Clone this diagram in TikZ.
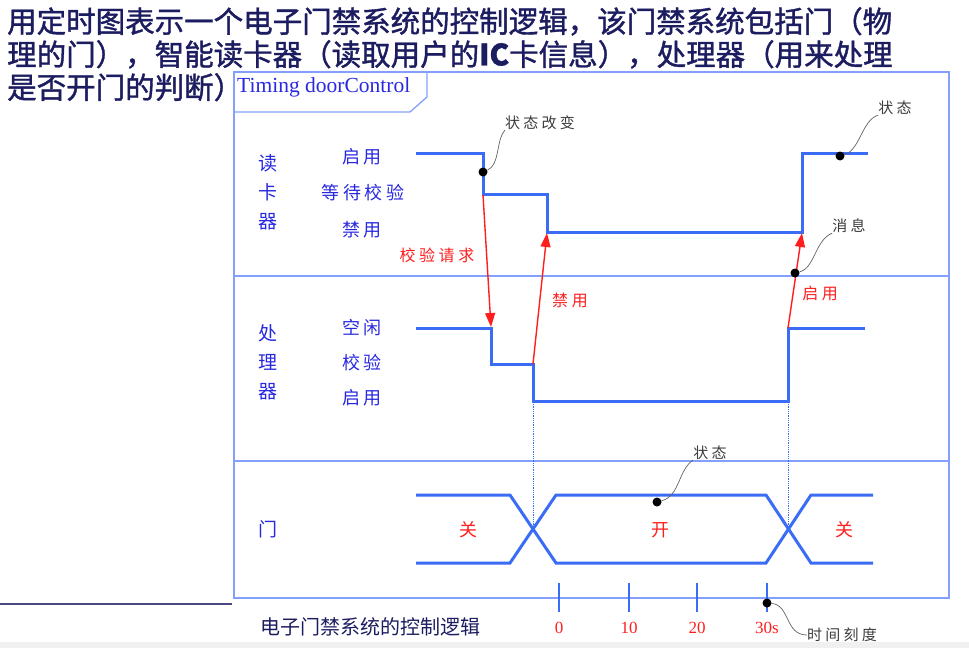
\documentclass[tikz,border=0pt]{standalone}
\usepackage{fontspec}
\setmainfont{Liberation Serif}
\newfontfamily\cjk{Noto Sans CJK SC}
\newfontfamily\cjkhead[FakeBold=1.3]{Noto Sans CJK SC}
\newfontfamily\cjklbl[LetterSpace=22]{Noto Sans CJK SC}
\usepackage{xcolor}
\definecolor{navy}{RGB}{28,28,96}
\definecolor{wave}{RGB}{58,108,245}
\definecolor{frameblue}{RGB}{132,160,255}
\definecolor{lblblue}{RGB}{40,40,225}
\definecolor{sigred}{RGB}{255,30,30}
\definecolor{coal}{RGB}{60,60,60}
\usepackage{tikz}
\usetikzlibrary{arrows.meta,positioning}

\begin{document}
\begin{tikzpicture}[
  x=1pt,y=-1pt,
  frm/.style={draw=frameblue,line width=1.3pt},
  sig/.style={draw=wave,line width=3pt,line join=miter},
  msg/.style={-{Triangle[length=14pt,width=10pt]},draw=sigred,fill=sigred,line width=1.4pt},
  lane/.style={font=\cjk\fontsize{19}{29}\selectfont,text=lblblue,align=center,inner sep=0pt},
  lvl/.style={font=\cjklbl\fontsize{18}{20}\selectfont,text=lblblue,inner sep=0pt},
  red/.style={font=\cjklbl\fontsize{16}{18}\selectfont,text=sigred,inner sep=0pt},
  note/.style={font=\cjklbl\fontsize{15}{17}\selectfont,text=coal,inner sep=0pt},
  notecurve/.style={draw=coal!80,line width=0.7pt},
  dot/.style={circle,fill=black,inner sep=0pt,minimum size=9pt},
  tick/.style={draw=wave,line width=2.6pt},
  tlbl/.style={font=\fontsize{17}{19}\selectfont,text=sigred,inner sep=0pt},
]
\useasboundingbox (0,0) rectangle (969,648);
\fill[black!6] (0,642) rectangle (969,648);

% heading
\node[anchor=north west,inner sep=0pt,align=left,text=navy,
      font=\cjkhead\fontsize{29.5}{33}\selectfont] (head) at (7,7)
  {用定时图表示一个电子门禁系统的控制逻辑，该门禁系统包括门（物\\
   理的门），智能读卡器（读取用户的\textbf{IC}卡信息），处理器（用来处理\\
   是否开门的判断）};
\draw[navy!80,line width=1.2pt] (0,604) -- (232,604);

% frame and lanes
\draw[frm] (234,72) rectangle (949,598);
\draw[frm] (234,112) -- (410,112) -- (427,97) -- (427,72);
\draw[frm] (234,276) -- (949,276);
\draw[frm] (234,461) -- (949,461);
\node[anchor=west,inner sep=0pt,text=lblblue,font=\fontsize{21.5}{23}\selectfont]
  (name) at (237,87) {Timing doorControl};

\node[lane] (reader) at (268,192) {读\\卡\\器};
\node[lane] (cpu) at (268,362) {处\\理\\器};
\node[lane] (door) at (268,529) {门};

\node[lvl] (rOn) at (362,157) {启用};
\node[lvl] (rWait) at (363,193) {等待校验};
\node[lvl] (rOff) at (362,230) {禁用};
\node[lvl] (pIdle) at (362,328) {空闲};
\node[lvl] (pCheck) at (362,363) {校验};
\node[lvl] (pOn) at (362,398) {启用};

% waveforms
\draw[sig] (416,153) -- (483,153) -- (483,194) -- (547,194) -- (547,232)
  -- (802,232) -- (802,153) -- (868,153);
\draw[sig] (416,328) -- (491,328) -- (491,364) -- (533,364) -- (533,401)
  -- (788,401) -- (788,328) -- (865,328);
\draw[sig] (416,495) -- (510,495) -- (556,563) -- (766,563) -- (811,495) -- (873,495);
\draw[sig] (416,563) -- (510,563) -- (556,495) -- (766,495) -- (811,563) -- (873,563);
\draw[wave,densely dotted,line width=0.8pt] (533,402) -- (533,529);
\draw[wave,densely dotted,line width=0.8pt] (788,402) -- (788,529);

% messages
\coordinate (req0) at (483,195);
\coordinate (req1) at (491,327);
\coordinate (off0) at (533,364);
\coordinate (off1) at (547,233);
\coordinate (on0) at (788,328);
\coordinate (on1) at (802,233);
\draw[msg] (req0) -- (req1);
\draw[msg] (off0) -- (off1);
\draw[msg] (on0) -- (on1);
\node[red] (lReq) at (437,255) {校验请求};
\node[red] (lOff) at (570,300) {禁用};
\node[red] (lOn) at (820,293) {启用};

\node[red,font=\cjk\fontsize{18}{20}\selectfont] (shut1) at (468,530) {关};
\node[red,font=\cjk\fontsize{18}{20}\selectfont] (open) at (660,530) {开};
\node[red,font=\cjk\fontsize{18}{20}\selectfont] (shut2) at (844,530) {关};

% time scale
\foreach \x/\t [count=\i] in {559/0,629/10,697/20,767/30s}{
  \draw[tick] (\x,583) -- (\x,612);
  \node[tlbl] (t\i) at (\x,628) {\t};
}

% notes
\node[dot] (d1) at (483,172) {};
\node[note] (n1) at (540,123) {状态改变};
\draw[notecurve] (d1) .. controls (500,165) and (496,140) .. (n1.south west);
\node[dot] (d2) at (840,156) {};
\node[note] (n2) at (895,108) {状态};
\draw[notecurve] (d2) .. controls (860,150) and (862,120) .. (n2.south west);
\node[dot] (d3) at (795,273) {};
\node[note] (n3) at (849,226) {消息};
\draw[notecurve] (d3) .. controls (815,268) and (815,240) .. (n3.south west);
\node[dot] (d4) at (657,502) {};
\node[note] (n4) at (710,453) {状态};
\draw[notecurve] (d4) .. controls (680,496) and (678,470) .. (n4.south west);
\node[dot] (d5) at (767,603) {};
\node[note] (n5) at (842,635) {时间刻度};
\draw[notecurve] (d5) .. controls (790,605) and (785,635) .. (n5.west);

\node[text=navy,font=\cjk\fontsize{20}{22}\selectfont,inner sep=0pt]
  (caption) at (370,627) {电子门禁系统的控制逻辑};
\end{tikzpicture}
\end{document}
